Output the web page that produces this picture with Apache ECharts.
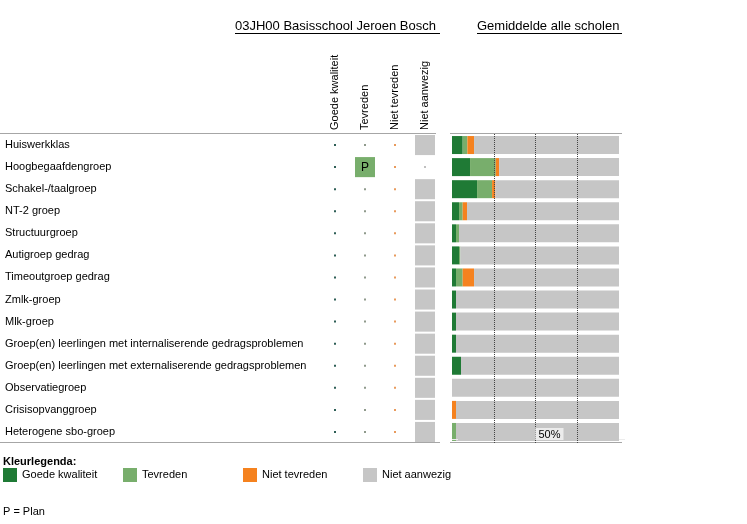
<!DOCTYPE html>
<html>
<head>
<meta charset="utf-8">
<script src="https://cdn.jsdelivr.net/npm/echarts@6/dist/echarts.min.js"></script>
<style>
html,body{margin:0;padding:0;background:#fff;}
#chart{width:747px;height:524px;}
</style>
</head>
<body>
<div id="chart"></div>
<script>
// groepen (rijen)
var groepen = ['Huiswerkklas','Hoogbegaafdengroep','Schakel-/taalgroep','NT-2 groep','Structuurgroep',
  'Autigroep gedrag','Timeoutgroep gedrag','Zmlk-groep','Mlk-groep',
  'Groep(en) leerlingen met internaliserende gedragsproblemen',
  'Groep(en) leerlingen met externaliserende gedragsproblemen',
  'Observatiegroep','Crisisopvanggroep','Heterogene sbo-groep'];
var kolommen = ['Goede kwaliteit','Tevreden','Niet tevreden','Niet aanwezig'];

// oordeel van de school per groep, P = plan
var schoolOordeel = ['Niet aanwezig','Tevreden','Niet aanwezig','Niet aanwezig','Niet aanwezig','Niet aanwezig',
  'Niet aanwezig','Niet aanwezig','Niet aanwezig','Niet aanwezig','Niet aanwezig','Niet aanwezig','Niet aanwezig','Niet aanwezig'];
var schoolPlan = [0,1,0,0,0,0,0,0,0,0,0,0,0,0];

// gemiddelde alle scholen (%)
var goedeKwaliteit = [6.4, 10.8, 15.0, 4.2, 2.4, 4.2, 2.4, 2.4, 2.4, 2.4, 5.4, 0, 0, 0];
var tevreden       = [2.8, 15.4, 9.0, 2.2, 1.8, 0.8, 4.0, 0, 0, 0, 0, 0, 0, 2.4];
var nietTevreden   = [4.0, 2.0, 2.0, 2.6, 0, 0, 6.8, 0, 0, 0, 0, 0, 2.4, 0];
var nietAanwezig   = [86.8, 71.8, 74.0, 91.0, 95.8, 95.0, 86.8, 97.6, 97.6, 97.6, 94.6, 100, 97.6, 97.6];
var verdeelLijnen = [25, 50, 75];

var kleuren = ['#1f7a35', '#78ae6c', '#f5821f', '#c6c6c6'];
var stipKleuren = ['#2e5e56', '#8f9a8c', '#e89a5c', '#c0c0c0'];
var font = 'Arial, "Liberation Sans", sans-serif';

var tabelData = [];
for (var i = 0; i < groepen.length; i++) {
  for (var j = 0; j < kolommen.length; j++) {
    tabelData.push([j, i]);
  }
}

var reeksen = [goedeKwaliteit, tevreden, nietTevreden, nietAanwezig];
var series = [];
series.push({
  type: 'custom',
  xAxisIndex: 0,
  yAxisIndex: 0,
  silent: true,
  data: tabelData,
  renderItem: function (params, api) {
    var j = api.value(0), i = api.value(1);
    var c = api.coord([j, i]);
    var s = api.size([1, 1]);
    if (kolommen[j] === schoolOordeel[i]) {
      var w = 20, h = s[1] - 2;
      var children = [{
        type: 'rect',
        shape: { x: c[0] - w / 2, y: c[1] - h / 2, width: w, height: h },
        style: { fill: kleuren[j] }
      }];
      if (schoolPlan[i]) {
        children.push({
          type: 'text',
          style: { text: 'P', x: c[0], y: c[1] + 1, align: 'center', verticalAlign: 'middle',
                   font: '12px ' + font, fill: '#000' }
        });
      }
      return { type: 'group', children: children };
    }
    return {
      type: 'rect',
      shape: { x: c[0] - 1, y: c[1] - 1, width: 2, height: 2 },
      style: { fill: stipKleuren[j] }
    };
  }
});
for (var k = 0; k < kolommen.length; k++) {
  var s = {
    name: kolommen[k],
    type: 'bar',
    stack: 'gem',
    xAxisIndex: 1,
    yAxisIndex: 1,
    barWidth: 18,
    silent: true,
    itemStyle: { color: kleuren[k] },
    data: reeksen[k]
  };
  if (k === kolommen.length - 1) {
    s.markLine = {
      silent: true,
      symbol: ['none', 'none'],
      label: { show: false },
      lineStyle: { type: 'dotted', color: '#444', width: 1 },
      z: 5,
      data: verdeelLijnen.map(function (v) { return { xAxis: v }; })
    };
  }
  series.push(s);
}

var legends = [];
var legendLeft = [3, 123, 243, 363];
for (var m = 0; m < kolommen.length; m++) {
  legends.push({
    left: legendLeft[m],
    top: 468,
    padding: 0,
    icon: 'rect',
    itemWidth: 14,
    itemHeight: 14,
    selectedMode: false,
    textStyle: { fontSize: 11, color: '#000', fontFamily: font },
    data: [kolommen[m]]
  });
}

var lijn = { stroke: '#a6a6a6', lineWidth: 1 };
var option = {
  animation: false,
  textStyle: { fontFamily: font },
  legend: legends,
  grid: [
    { left: 320, top: 134, width: 120, height: 309 },
    { left: 452, top: 134, width: 167, height: 309 }
  ],
  xAxis: [
    {
      gridIndex: 0, type: 'category', position: 'top', data: kolommen,
      axisLine: { show: false }, axisTick: { show: false },
      axisLabel: { rotate: -90, margin: 4, fontSize: 11, color: '#000', fontFamily: font }
    },
    {
      gridIndex: 1, type: 'value', min: 0, max: 100, interval: 50, z: 10,
      axisLine: { show: false }, axisTick: { show: false }, splitLine: { show: false },
      axisLabel: {
        inside: true, margin: 3, align: 'left', fontSize: 11, color: '#000', fontFamily: font,
        backgroundColor: '#ececec', padding: [1, 3, 0, 3],
        formatter: function (v) { return v === 50 ? '50%' : ''; }
      }
    }
  ],
  yAxis: [
    {
      gridIndex: 0, type: 'category', inverse: true, data: groepen,
      axisLine: { show: false }, axisTick: { show: false },
      axisLabel: { align: 'left', margin: 315, fontSize: 11, color: '#000', fontFamily: font }
    },
    {
      gridIndex: 1, type: 'category', inverse: true, data: groepen, show: false
    }
  ],
  graphic: [
    { type: 'text', left: 235, top: 20, style: { text: '03JH00 Basisschool Jeroen Bosch', font: '13px ' + font, fill: '#000' } },
    { type: 'line', shape: { x1: 235, y1: 33.5, x2: 440, y2: 33.5 }, style: { stroke: '#000', lineWidth: 1 } },
    { type: 'text', left: 477, top: 20, style: { text: 'Gemiddelde alle scholen', font: '13px ' + font, fill: '#000' } },
    { type: 'line', shape: { x1: 477, y1: 33.5, x2: 622, y2: 33.5 }, style: { stroke: '#000', lineWidth: 1 } },
    { type: 'line', shape: { x1: 0, y1: 133.5, x2: 436, y2: 133.5 }, style: lijn },
    { type: 'line', shape: { x1: 0, y1: 442.5, x2: 440, y2: 442.5 }, style: lijn },
    { type: 'line', shape: { x1: 450, y1: 133.5, x2: 622, y2: 133.5 }, style: lijn },
    { type: 'line', shape: { x1: 450, y1: 442.5, x2: 622, y2: 442.5 }, style: lijn },
    { type: 'text', left: 3, top: 456, style: { text: 'Kleurlegenda:', font: 'bold 11px ' + font, fill: '#000' } },
    { type: 'text', left: 3, top: 506, style: { text: 'P = Plan', font: '11px ' + font, fill: '#000' } }
  ],
  series: series
};

var myChart = echarts.init(document.getElementById('chart'));
myChart.setOption(option);
</script>
</body>
</html>
